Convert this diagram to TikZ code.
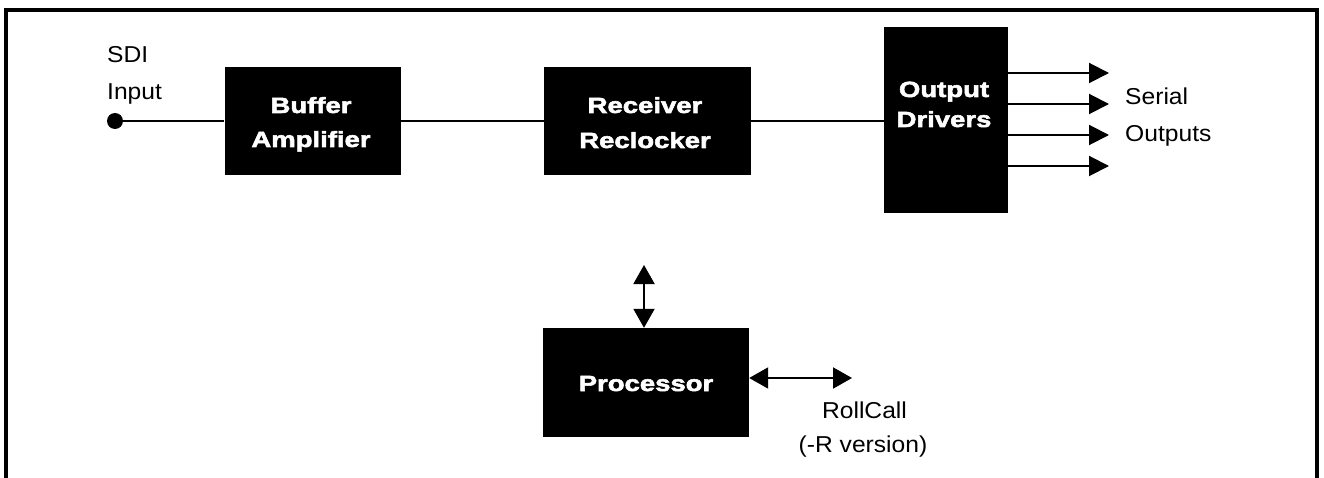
\documentclass[tikz,border=0pt]{standalone}
\usepackage{fontspec}
\setmainfont{Liberation Sans}[FakeStretch=1.07]
\newfontfamily\blk{Liberation Sans}[FakeStretch=1.25,FakeBold=2.5]
\usetikzlibrary{arrows.meta}
\tikzset{
  blackbox/.style={fill=black,draw=none,inner sep=0pt},
  lt/.style={inner sep=0pt,font=\fontsize{23}{28}\selectfont},
  bt/.style={inner sep=0pt,text=white,font=\blk\bfseries\fontsize{22}{26}\selectfont,anchor=base},
  conn/.style={line width=2pt},
  outarrow/.style={line width=2pt,-{Triangle[length=20pt,width=20pt]}},
  dblarrow/.style={line width=2pt,{Triangle[length=19pt,width=21pt]}-{Triangle[length=19pt,width=21pt]}},
}
\begin{document}
\begin{tikzpicture}[x=1pt,y=-1pt]
\useasboundingbox (0,0) rectangle (1324,478);
% frame
\draw[line width=4pt,line join=miter] (6,482) -- (6,10) -- (1317,10) -- (1317,482);
% nodes
\node[circle,fill=black,minimum size=16pt,inner sep=0pt] (sdi) at (115,121) {};
\node[blackbox,minimum width=176pt,minimum height=108pt] (buf) at (312.5,121.5) {};
\node[blackbox,minimum width=207pt,minimum height=108pt] (rec) at (647.5,121.5) {};
\node[blackbox,minimum width=124pt,minimum height=186pt] (out) at (946,120) {};
\node[blackbox,minimum width=206pt,minimum height=109pt] (proc) at (646,382.5) {};
% box labels
\node[bt] (bufA) at (311,113) {Buffer};
\node[bt] (bufB) at (311,147) {Amplifier};
\node[bt] (recA) at (645,113) {Receiver};
\node[bt] (recB) at (645,148) {Reclocker};
\node[bt] (outA) at (944,97) {Output};
\node[bt] (outB) at (944,127) {Drivers};
\node[bt] (procA) at (646,391) {Processor};
% plain labels
\node[lt,anchor=base west] (sdiA) at (107,63) {SDI};
\node[lt,anchor=base west] (sdiB) at (107,100) {Input};
\node[lt,anchor=base west] (serA) at (1125,105) {Serial};
\node[lt,anchor=base west] (serB) at (1125,142) {Outputs};
\node[lt,anchor=base] (rcA) at (864.5,418) {RollCall};
\node[lt,anchor=base] (rcB) at (863,452) {(-R version)};
% connectors
\draw[conn] (sdi.center) -- (sdi.center -| buf.west);
\draw[conn] (buf.east) -- (rec.west);
\draw[conn] (rec.east) -- (rec.east -| out.west);
\coordinate (o1) at (1109,73);
\coordinate (o2) at (1109,104);
\coordinate (o3) at (1109,135);
\coordinate (o4) at (1109,166);
\foreach \c in {o1,o2,o3,o4} \draw[outarrow] (\c -| out.east) -- (\c);
\coordinate (ptop) at (644,265);
\draw[dblarrow] (ptop) -- (ptop |- proc.north);
\coordinate (rc) at (852,378);
\draw[dblarrow] (rc -| proc.east) -- (rc);
\end{tikzpicture}
\end{document}
